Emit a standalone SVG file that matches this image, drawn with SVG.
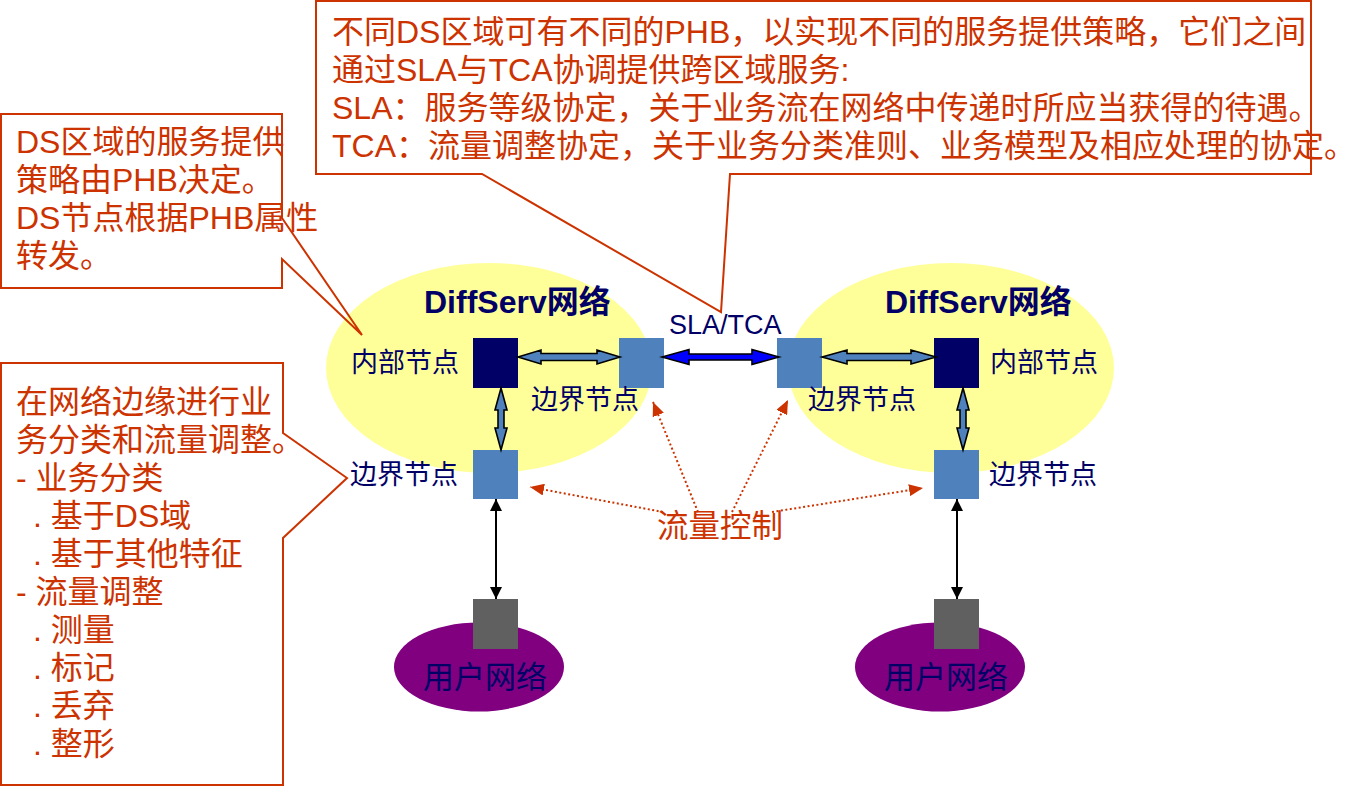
<svg xmlns="http://www.w3.org/2000/svg" width="1362" height="787" viewBox="0 0 1362 787">
<defs>
<style>
text{font-family:"Liberation Sans","Noto Sans CJK SC",sans-serif;}
.co{fill:#CC3300;font-size:32px;}
.nv{fill:#000066;font-size:27px;}
.ds{fill:#000066;font-size:32px;font-weight:bold;}
.un{fill:#000066;font-size:31px;}
.box{fill:#fff;stroke:none;}
.edge{fill:none;stroke:#CC3300;stroke-width:2;}
.fat{stroke:#000;stroke-width:1.6;stroke-linejoin:miter;}
.dot{fill:none;stroke:#CC3300;stroke-width:2;stroke-dasharray:2 2.5;}
.thin{fill:none;stroke:#000;stroke-width:2;}
</style>
<marker id="ah" viewBox="0 0 12 12" refX="12" refY="6" markerWidth="12" markerHeight="12" markerUnits="userSpaceOnUse" orient="auto-start-reverse"><path d="M0,0 L12,6 L0,12 Z" fill="#000"/></marker>
<marker id="dh" viewBox="0 0 14 12" refX="14" refY="6" markerWidth="14" markerHeight="12" markerUnits="userSpaceOnUse" orient="auto"><path d="M0,0 L14,6 L0,12 Z" fill="#CC3300"/></marker>
</defs>
<rect width="1362" height="787" fill="#fff"/>

<g id="diffserv-left">
<ellipse cx="489" cy="368" rx="163" ry="105" fill="#FFFF99"/>
<text class="ds" x="424" y="313">DiffServ网络</text>
</g>
<g id="diffserv-right">
<ellipse cx="951" cy="368" rx="163" ry="105" fill="#FFFF99"/>
<text class="ds" x="885" y="313">DiffServ网络</text>
</g>
<g id="user-left">
<ellipse cx="479" cy="667" rx="85" ry="44.5" fill="#800080"/>
</g>
<g id="user-right">
<ellipse cx="940" cy="667" rx="85" ry="44.5" fill="#800080"/>
</g>

<g id="inner-left"><rect x="473" y="338" width="45" height="50" fill="#000066"/><text class="nv" x="351" y="372">内部节点</text></g>
<g id="edge-left-top"><rect x="619" y="338" width="45" height="50" fill="#4F81BD"/><text class="nv" x="531" y="409">边界节点</text></g>
<g id="edge-left-bottom"><rect x="473" y="450" width="45" height="49" fill="#4F81BD"/><text class="nv" x="350" y="484">边界节点</text></g>
<g id="edge-right-top"><rect x="777" y="338" width="45" height="50" fill="#4F81BD"/><text class="nv" x="808" y="409">边界节点</text></g>
<g id="inner-right"><rect x="934" y="338" width="45" height="50" fill="#000066"/><text class="nv" x="990" y="372">内部节点</text></g>
<g id="edge-right-bottom"><rect x="934" y="450" width="45" height="49" fill="#4F81BD"/><text class="nv" x="989" y="484">边界节点</text></g>
<g id="host-left"><rect x="473" y="599" width="45" height="50" fill="#606060"/><text class="un" x="423" y="688">用户网络</text></g>
<g id="host-right"><rect x="934" y="599" width="45" height="50" fill="#606060"/><text class="un" x="884" y="688">用户网络</text></g>

<g id="connectors">
<path class="fat" fill="#4F81BD" d="M518,357 L541,350 L541,353.5 L597,353.5 L597,350 L620,357 L597,364 L597,360.5 L541,360.5 L541,364 Z"/>
<path class="fat" fill="#0000FF" d="M662,357 L689,349.5 L689,354 L752,354 L752,349.5 L779,357 L752,364.5 L752,360 L689,360 L689,364.5 Z"/>
<path class="fat" fill="#4F81BD" d="M822,357 L847,350 L847,353.5 L911,353.5 L911,350 L936,357 L911,364 L911,360.5 L847,360.5 L847,364 Z"/>
<path class="fat" fill="#4F81BD" d="M501,388 L507,410 L504,410 L504,428 L507,428 L501,450 L495,428 L498,428 L498,410 L495,410 Z"/>
<path class="fat" fill="#4F81BD" d="M963,388 L969,410 L966,410 L966,428 L969,428 L963,450 L957,428 L960,428 L960,410 L957,410 Z"/>
<line class="thin" x1="496" y1="499" x2="496" y2="599" marker-start="url(#ah)" marker-end="url(#ah)"/>
<line class="thin" x1="957" y1="499" x2="957" y2="599" marker-start="url(#ah)" marker-end="url(#ah)"/>
<line class="dot" x1="663" y1="512" x2="530" y2="487" marker-end="url(#dh)"/>
<line class="dot" x1="698" y1="512" x2="653" y2="402" marker-end="url(#dh)"/>
<line class="dot" x1="732" y1="512" x2="788" y2="400" marker-end="url(#dh)"/>
<line class="dot" x1="772" y1="512" x2="923" y2="488" marker-end="url(#dh)"/>
</g>

<g id="label-sla"><text class="nv" x="669" y="334">SLA/TCA</text></g>
<g id="label-flow"><text class="co" x="657" y="537" style="font-size:31.5px">流量控制</text></g>

<g id="callout-top">
<rect class="box" x="316" y="1" width="995" height="173"/>
<path class="edge" d="M316,1 H1311 V174 H730 L721,312 L482,174 H316 Z"/>
<text class="co" x="332" y="43">不同DS区域可有不同的PHB，以实现不同的服务提供策略，它们之间</text>
<text class="co" x="332" y="81">通过SLA与TCA协调提供跨区域服务:</text>
<text class="co" x="332" y="119">SLA：服务等级协定，关于业务流在网络中传递时所应当获得的待遇。</text>
<text class="co" x="332" y="157">TCA：流量调整协定，关于业务分类准则、业务模型及相应处理的协定。</text>
</g>

<g id="callout-phb">
<rect class="box" x="1" y="114" width="281" height="174"/>
<path class="edge" d="M1,114 H282 V218 L362,335 L282,259 V288 H1 Z"/>
<text class="co" x="16" y="153">DS区域的服务提供</text>
<text class="co" x="16" y="191">策略由PHB决定。</text>
<text class="co" x="16" y="229">DS节点根据PHB属性</text>
<text class="co" x="16" y="267">转发。</text>
</g>

<g id="callout-edge">
<rect class="box" x="1" y="363" width="282" height="422"/>
<path class="edge" d="M1,363 H283 V433 L347,478 L283,538 V785 H1 Z"/>
<text class="co" x="16" y="413">在网络边缘进行业</text>
<text class="co" x="16" y="451">务分类和流量调整。</text>
<text class="co" x="16" y="489">- 业务分类</text>
<text class="co" x="33" y="527">. 基于DS域</text>
<text class="co" x="33" y="565">. 基于其他特征</text>
<text class="co" x="16" y="603">- 流量调整</text>
<text class="co" x="33" y="641">. 测量</text>
<text class="co" x="33" y="679">. 标记</text>
<text class="co" x="33" y="717">. 丢弃</text>
<text class="co" x="33" y="755">. 整形</text>
</g>
</svg>
